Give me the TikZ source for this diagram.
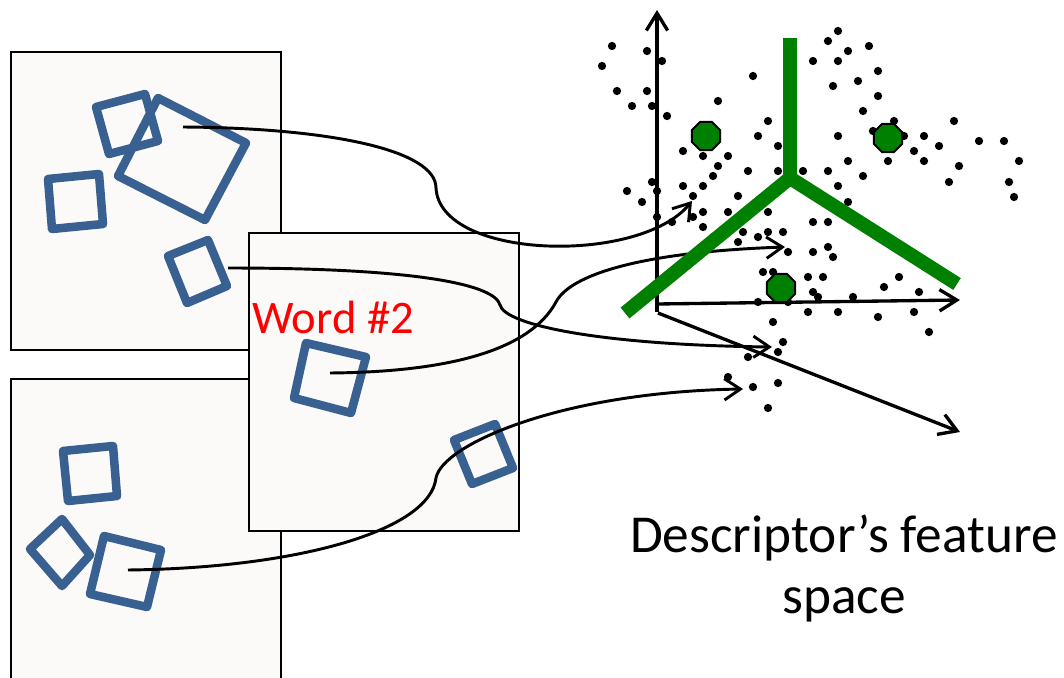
\documentclass[tikz,border=0pt]{standalone}
\usepackage{fontspec}
\setmainfont{Carlito}
\usetikzlibrary{arrows.meta,shapes.geometric}
\definecolor{sqblue}{RGB}{56,97,146}
\definecolor{vgreen}{RGB}{0,128,0}
\definecolor{panelfill}{RGB}{251,250,249}
\begin{document}
\begin{tikzpicture}[x=0.75pt,y=-0.75pt,
 panel/.style={draw=black,line width=1.7pt,fill=panelfill},
 sq/.style={draw=sqblue,line width=6.4pt,line join=round},
 conn/.style={draw=black,line width=2.2pt,-{Straight Barb[length=12pt,width=16pt,line width=2.2pt]}},
 axisline/.style={draw=black,line width=2.5pt,-{Straight Barb[length=13pt,width=16pt,line width=2.5pt]}},
 gline/.style={draw=vgreen,line width=10.5pt},
 octa/.style={regular polygon,regular polygon sides=8,fill=vgreen,draw=black,line width=1.4pt,minimum size=23pt,inner sep=0pt},
 dot/.style={circle,fill=black,inner sep=0pt,minimum size=6.2pt}
]
\useasboundingbox (0,0) rectangle (1064,678);
\fill[white] (0,0) rectangle (1064,678);

% image panels
\draw[panel] (11,52) rectangle (281,350);
\draw[panel] (11,379) rectangle (281,700);
\draw[panel] (249,233) rectangle (519,531);

% patches in panel A
\draw[sq] (96,107) -- (145,94) -- (158,141) -- (109,154) -- cycle;
\draw[sq] (158,98) -- (246,143) -- (205,220) -- (118,176) -- cycle;
\draw[sq] (48,179) -- (99,174) -- (103,224) -- (52,229) -- cycle;
\draw[sq] (168,256) -- (208,240) -- (227,286) -- (187,303) -- cycle;
% patches in panel B
\draw[sq] (63,451) -- (113,446) -- (117,496) -- (68,501) -- cycle;
\draw[sq] (62,519) -- (90,555) -- (62,586) -- (30,549) -- cycle;
\draw[sq] (104,536) -- (161,550) -- (147,607) -- (90,594) -- cycle;
% patches in panel C
\draw[sq] (306,343) -- (366,357) -- (351,413) -- (294,398) -- cycle;
\draw[sq] (454,440) -- (495,424) -- (513,468) -- (472,484) -- cycle;

\node[text=red,font=\fontsize{35pt}{40pt}\selectfont,anchor=base west,inner sep=0pt] (word) at (252,333) {Word \#2};

% feature space axes
\coordinate (O) at (657,312);
\coordinate (Oy) at (657,10);
\coordinate (Ox0) at (657,304);
\coordinate (Ox) at (960,300);
\coordinate (Oz0) at (658,313);
\coordinate (Oz) at (960,432);
\draw[axisline] (O) -- (Oy);
\draw[axisline] (Ox0) -- (Ox);
\draw[axisline] (Oz0) -- (Oz);

% descriptor points
\foreach \p in {
(612,46),(647,51),(662,61),(602,66),(617,91),(647,91),(632,106),(652,106),(667,116),
(718,101),(753,76),(768,121),(758,136),(778,146),
(683,151),(703,156),(728,156),(718,166),(713,176),(748,171),(778,171),(803,171),(828,171),
(652,182),(627,191),(657,191),(642,202),(683,186),(703,186),(693,196),(738,196),
(657,217),(693,217),(703,212),(728,212),(768,212),(672,222),(703,227),
(743,232),(738,242),(758,237),(768,232),(783,232),(713,237),
(788,252),(813,222),(828,222),(813,252),(828,247),(833,257),
(763,272),(773,272),(808,277),(823,277),(813,292),(818,297),(853,297),(884,287),(899,277),(919,292),
(758,302),(788,302),(808,312),(838,312),(878,317),(914,312),(929,332),
(773,322),(783,342),(778,352),(748,357),(728,377),(778,383),(753,387),(768,408),
(838,31),(828,41),(848,51),(869,46),(813,61),(838,61),(878,71),(858,81),(833,86),(878,96),
(863,111),(894,121),(954,121),(873,131),(904,136),(924,136),(838,136),(939,146),(914,151),
(979,141),(1004,141),(848,161),(888,161),(924,161),(959,166),(1019,161),(863,176),(838,186),
(949,182),(1009,182),(1014,197),(848,202)}
  \node[dot] at \p {};

% connectors
\coordinate (a1) at (183,127);
\coordinate (t1) at (692,201);
\coordinate (a2) at (228,268);
\coordinate (t2) at (772,347);
\coordinate (a3) at (330,373);
\coordinate (t3) at (785,247);
\coordinate (a4) at (128,570);
\coordinate (t4) at (743,389);
\draw[conn] (a1) .. controls (330,128) and (436,150) .. (436,188) .. controls (440,260) and (640,265) .. (t1);
\draw[conn] (a2) .. controls (420,268) and (495,285) .. (500,305) .. controls (505,325) and (600,345) .. (t2);
\draw[conn] (a3) .. controls (450,372) and (530,350) .. (556,302) .. controls (570,275) and (640,252) .. (t3);
\draw[conn] (a4) .. controls (300,568) and (430,530) .. (436,478) .. controls (442,445) and (560,392) .. (t4);

% cluster boundaries
\coordinate (J) at (790,178);
\coordinate (Jtop) at (790,38);
\coordinate (Jl) at (625,313);
\coordinate (Jr) at (957,284);
\draw[gline] (Jtop) -- (J);
\draw[gline] (Jl) -- (J) -- (Jr);

% cluster centres
\node[octa] (c1) at (706,136) {};
\node[octa] (c2) at (888,138) {};
\node[octa] (c3) at (781,288) {};

\node[font=\fontsize{40pt}{46pt}\selectfont,anchor=base,inner sep=0pt] (lab1) at (844,552) {Descriptor’s feature};
\node[font=\fontsize{40pt}{46pt}\selectfont,anchor=base,inner sep=0pt] (lab2) at (844,613) {space};
\end{tikzpicture}
\end{document}
